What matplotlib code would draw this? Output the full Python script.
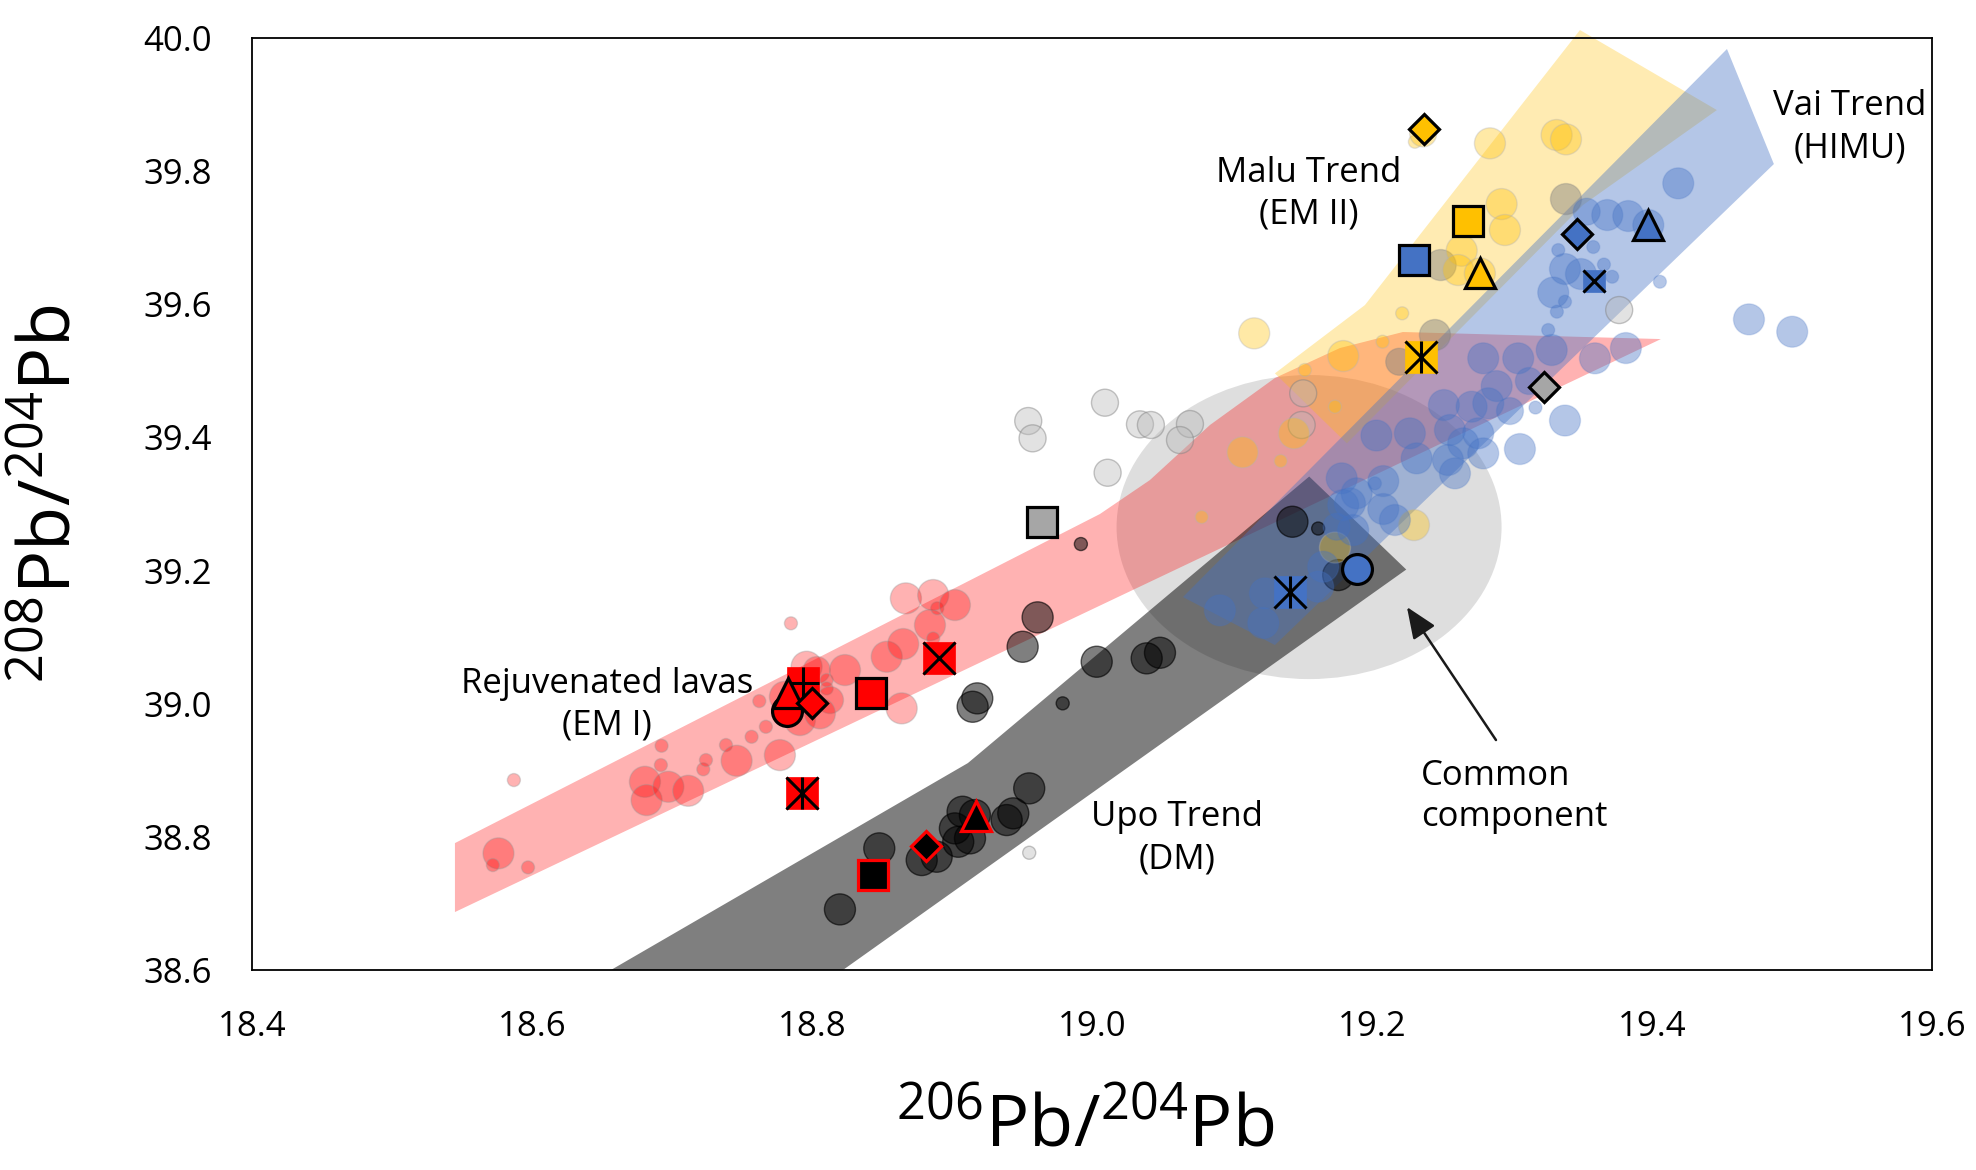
import matplotlib
matplotlib.use("Agg")
import matplotlib.pyplot as plt
from matplotlib.patches import Polygon, Ellipse
import numpy as np

plt.rcParams['font.family'] = 'Open Sans'
plt.rcParams['mathtext.fontset'] = 'custom'
plt.rcParams['mathtext.rm'] = 'Open Sans'

# ---- trend fields, vertices as (206Pb/204Pb, 208Pb/204Pb)
rejuv_field = [(18.545, 38.7907), (19.0057, 39.285), (19.0414, 39.336), (19.0843, 39.4187),
               (19.1307, 39.4893), (19.1771, 39.5343), (19.2221, 39.5584), (19.4064, 39.5478),
               (18.545, 38.6871)]
upo_field = [(18.6564, 38.6), (18.9114, 38.9109), (19.1552, 39.3413), (19.2245, 39.2016),
             (18.8221, 38.6)]
malu_field = [(19.1307, 39.4963), (19.195, 39.5989), (19.3486, 40.012), (19.4464, 39.8918),
              (19.3507, 39.7491), (19.1821, 39.3912)]
vai_field = [(19.065, 39.1603), (19.4536, 39.9835), (19.4871, 39.8107), (19.1307, 39.0882)]
common_centre = (19.1551, 39.2654)
common_w = 0.275
common_h = 0.4567

# ---- literature data (size class: L / M / S)
red_x = [18.5761, 18.5721, 18.5972, 18.5871, 18.6807, 18.6819, 18.6974, 18.7116, 18.6926, 18.6921,
         18.7224, 18.7243, 18.7386, 18.7462, 18.7569, 18.7624, 18.7671, 18.7771, 18.7807, 18.785,
         18.7914, 18.7962, 18.8034, 18.8105, 18.8105, 18.8129, 18.8057, 18.8236, 18.8534, 18.8652,
         18.8843, 18.8866, 18.8895, 18.8671, 18.8866, 18.9021, 18.8641]
red_y = [38.7753, 38.7577, 38.7542, 38.8854, 38.8828, 38.8553, 38.8753, 38.8693, 38.9369, 38.9079,
         38.9015, 38.9154, 38.938, 38.9144, 38.9504, 39.004, 38.9654, 38.9229, 39.0105, 39.1208,
         38.9755, 39.0556, 39.0506, 39.0356, 39.0231, 39.0056, 38.9856, 39.0506, 39.0706, 39.0897,
         39.1182, 39.0982, 39.1433, 39.1583, 39.1633, 39.1483, 38.9931]
red_sz = "LSSSLLLLSSSSSLSSSLLSLLMSSMLLLLLSSLLLL"

lgray_x = [18.9545, 18.9576, 19.0093, 19.0343, 19.0421, 19.07, 19.0629, 19.0112, 19.1509, 19.1498,
           19.3766, 18.9552]
lgray_y = [39.4247, 39.3987, 39.4522, 39.4197, 39.4187, 39.4202, 39.3961, 39.347, 39.4663, 39.4187,
           39.5914, 38.7762]
lgray_sz = "MMMMMMMMMMMS"

mgray_x = [19.3386, 19.2491, 19.245, 19.2195]
mgray_y = [39.7581, 39.659, 39.5539, 39.5137]
mgray_sz = "LLLM"

dark_x = [18.9921, 18.9612, 18.9505, 18.9181, 18.9148, 19.0034, 19.0391, 19.0486, 18.9791, 19.1432,
          19.1616, 19.1759, 18.9552, 18.9438, 18.9391, 18.9076, 18.9164, 18.9021, 18.9045, 18.9129,
          18.8891, 18.8784, 18.8481, 18.82]
dark_y = [39.2399, 39.1298, 39.0856, 39.0081, 38.9955, 39.0631, 39.0682, 39.0766, 39.0006, 39.2734,
          39.2632, 39.1933, 38.8729, 38.8354, 38.8253, 38.8378, 38.8328, 38.8128, 38.7927, 38.7978,
          38.7702, 38.7652, 38.7828, 38.6911]
dark_sz = "SLLLLLLLSLSLLLLLLLLLLLLL"

yel_x = [19.2307, 19.2366, 19.2843, 19.3319, 19.3386, 19.2926, 19.295, 19.2641, 19.2616, 19.2771,
         19.2216, 19.1159, 19.1795, 19.2076, 19.1521, 19.1736, 19.1076, 19.1348, 19.1443, 19.0784,
         19.23, 19.1736]
yel_y = [39.8442, 39.8568, 39.8418, 39.8543, 39.8478, 39.7506, 39.7116, 39.6805, 39.6515, 39.6465,
         39.5865, 39.5564, 39.5223, 39.5438, 39.5013, 39.4462, 39.3777, 39.3646, 39.4062, 39.2805,
         39.2684, 39.2346]
yel_sz = "SMLLLLLLLLSLLSSSLSLSLL"

blue_x = [19.4188, 19.3534, 19.3681, 19.3831, 19.3974, 19.3331, 19.3581, 19.3379, 19.3493, 19.3657,
          19.3716, 19.3295, 19.3379, 19.3321, 19.4057, 19.3259, 19.3284, 19.3593, 19.3814, 19.4693,
          19.5002, 19.2795, 19.3045, 19.2891, 19.3121, 19.2514, 19.2712, 19.2831, 19.2986, 19.3168,
          19.3379, 19.3057, 19.2032, 19.2271, 19.2557, 19.2652, 19.2759, 19.2319, 19.2543, 19.2593,
          19.2795, 19.1784, 19.2081, 19.2021, 19.1795, 19.1843, 19.2081, 19.2164, 19.1866, 19.1748,
          19.1616, 19.1236, 19.0914, 19.1224, 19.1652, 19.1891]
blue_y = [39.7817, 39.7391, 39.7341, 39.7326, 39.7191, 39.6815, 39.6861, 39.653, 39.6455, 39.6598,
          39.6414, 39.6177, 39.6039, 39.5889, 39.6339, 39.5614, 39.5313, 39.5189, 39.5343, 39.5774,
          39.5588, 39.5189, 39.5189, 39.4772, 39.4848, 39.4487, 39.4462, 39.4513, 39.4397, 39.4449,
          39.4254, 39.3826, 39.4029, 39.4062, 39.4112, 39.3912, 39.4062, 39.3686, 39.3661, 39.3461,
          39.3761, 39.3386, 39.3345, 39.3311, 39.2985, 39.301, 39.2925, 39.276, 39.2609, 39.2659,
          39.1758, 39.1658, 39.1403, 39.1212, 39.2058, 39.3161]
blue_sz = "LMLLLSSLLSSLSSSSLLLLLLLLMLLLMSLL" + "LLLLLLLLLLL" + "S" + "LLLLL" + "M" + "LLLLL" + "L"

# ---- this study's samples
hl_group = ["rej", "rej", "rej", "rej", "rej", "rej", "rej",
            "upo", "upo", "upo",
            "gry", "gry",
            "vai", "vai", "vai", "vai", "vai", "vai",
            "mal", "mal", "mal", "mal"]
hl_shape = ["sq+", "o", "^", "D", "s", "sqx", "sq*",
            "s", "D", "^",
            "s", "D",
            "s", "D", "^", "sqx_small", "sq*", "o",
            "D", "s", "^", "sq*"]
hl_x = [18.7934, 18.7824, 18.7826, 18.7998, 18.8425, 18.8909, 18.7926,
        18.8434, 18.8814, 18.9171,
        18.9641, 19.3229,
        19.2302, 19.3466, 19.3969, 19.3588, 19.1414, 19.1895,
        19.2371, 19.2688, 19.2771, 19.2348]
hl_y = [39.0306, 38.9895, 39.0156, 39.0006, 39.0165, 39.0694, 38.8654,
        38.7427, 38.7862, 38.8309,
        39.2725, 39.4757,
        39.6665, 39.7051, 39.7191, 39.6354, 39.1682, 39.2019,
        39.8629, 39.7256, 39.647, 39.5213]

RED = '#FF0000'
BLUE = '#4472C4'
GOLD = '#FFC000'
GREY = '#A6A6A6'

PX = 0.72  # points per pixel at dpi 100
size_px = {'L': 31, 'M': 27, 'S': 13}


def sizes(codes):
    return [(size_px[c] * PX) ** 2 for c in codes]


fig = plt.figure(figsize=(19.76, 11.7), dpi=100)
ax = fig.add_axes([0.1275, 0.1709, 0.8502, 0.7966])

ax.add_patch(Ellipse(common_centre, common_w, common_h, facecolor='#A5A5A5', alpha=0.36,
                     edgecolor='none', zorder=1))
ax.add_patch(Polygon(rejuv_field, closed=True, facecolor=RED, alpha=0.3, edgecolor='none', zorder=2))
ax.add_patch(Polygon(malu_field, closed=True, facecolor=GOLD, alpha=0.3, edgecolor='none', zorder=3,
                     clip_on=False))
ax.add_patch(Polygon(upo_field, closed=True, facecolor='black', alpha=0.5, edgecolor='none', zorder=4))
ax.add_patch(Polygon(vai_field, closed=True, facecolor=BLUE, alpha=0.4, edgecolor='none', zorder=5))

ax.scatter(red_x, red_y, s=sizes(red_sz), facecolor=(1, 0, 0, 0.3),
           edgecolor=(0.6, 0.6, 0.6, 0.35), linewidth=1, zorder=6)
ax.scatter(lgray_x, lgray_y, s=sizes(lgray_sz), facecolor=(0.72, 0.72, 0.72, 0.4),
           edgecolor=(0.5, 0.5, 0.5, 0.45), linewidth=1, zorder=6)
ax.scatter(mgray_x, mgray_y, s=sizes(mgray_sz), facecolor=(0.5, 0.5, 0.5, 0.45),
           edgecolor=(0.5, 0.5, 0.5, 0.3), linewidth=1, zorder=6)
ax.scatter(dark_x, dark_y, s=sizes(dark_sz), facecolor=(0, 0, 0, 0.5),
           edgecolor=(0, 0, 0, 0.6), linewidth=1, zorder=7)
ax.scatter(yel_x, yel_y, s=sizes(yel_sz), facecolor=(1, 0.753, 0, 0.35),
           edgecolor=(0.7, 0.7, 0.7, 0.35), linewidth=1, zorder=7)
ax.scatter(blue_x, blue_y, s=sizes(blue_sz), facecolor=(0.267, 0.447, 0.769, 0.4),
           edgecolor=(0.267, 0.447, 0.769, 0.2), linewidth=1, zorder=8)

face = {'rej': RED, 'upo': 'black', 'gry': GREY, 'vai': BLUE, 'mal': GOLD}
edge = {'rej': 'black', 'upo': RED, 'gry': 'black', 'vai': 'black', 'mal': 'black'}

z = 10
for g, shp, x, y in zip(hl_group, hl_shape, hl_x, hl_y):
    fc = face[g]
    ec = edge[g]
    if shp.startswith('sq') and shp != 's':
        ms = 16.5 if shp.endswith('small') else 23.5
        ax.plot(x, y, 's', ms=ms, mfc=fc, mec=fc, mew=0.5, zorder=z)
        if shp.startswith('sqx'):
            ax.plot(x, y, 'x', ms=ms, mec='black', mew=2.2, zorder=z + 0.1)
        elif shp == 'sq*':
            ax.plot(x, y, 'x', ms=ms, mec='black', mew=2.2, zorder=z + 0.1)
            ax.plot(x, y, '|', ms=ms, mec='black', mew=2.2, zorder=z + 0.1)
        elif shp == 'sq+':
            ax.plot(x, y, '+', ms=ms, mec='black', mew=2.2, zorder=z + 0.1)
    elif shp == 'D':
        ax.plot(x, y, 'D', ms=15.5, mfc=fc, mec=ec, mew=2.3, zorder=z)
    elif shp == '^':
        ax.plot(x, y, '^', ms=22, mfc=fc, mec=ec, mew=2.3, zorder=z)
    elif shp == 'o':
        ax.plot(x, y, 'o', ms=21.5, mfc=fc, mec=ec, mew=2.3, zorder=z)
    else:
        ax.plot(x, y, 's', ms=21.5, mfc=fc, mec=ec, mew=2.3, zorder=z)
    z += 1

# ---- labels
lab = dict(fontsize=25, ha='center', va='center', linespacing=1.3, zorder=30)
ax.text(18.6536, 38.998, "Rejuvenated lavas\n(EM I)", **lab)
ax.text(19.0605, 38.7978, "Upo Trend\n(DM)", **lab)
ax.text(19.155, 39.7657, "Malu Trend\n(EM II)", **lab)
ax.text(19.5414, 39.8659, "Vai Trend\n(HIMU)", **lab)
ax.text(19.235, 38.8606, "Common\ncomponent", fontsize=25, ha='left', va='center',
        linespacing=1.3, zorder=30)
ax.annotate('', xy=(19.225, 39.1453), xytext=(19.2886, 38.9455),
            arrowprops=dict(arrowstyle='-|>,head_length=0.6,head_width=0.25', lw=1.8,
                            color='#1a1a1a', mutation_scale=32, shrinkA=0, shrinkB=0),
            zorder=30)

ax.set_xlim(18.4, 19.6)
ax.set_ylim(38.6, 40.0)
ax.set_xticks(np.arange(18.4, 19.61, 0.2))
ax.set_yticks(np.arange(38.6, 40.01, 0.2))
ax.xaxis.set_major_formatter(matplotlib.ticker.FormatStrFormatter('%.1f'))
ax.yaxis.set_major_formatter(matplotlib.ticker.FormatStrFormatter('%.1f'))
ax.tick_params(length=0, pad=29, labelsize=25)
for sp in ax.spines.values():
    sp.set_linewidth(1.3)
    sp.set_zorder(40)

fig.text(0.549, 0.0359, r'$^{\mathrm{206}}$Pb/$^{\mathrm{204}}$Pb', fontsize=52,
         ha='center', va='center')
fig.text(0.0263, 0.5778, r'$^{\mathrm{208}}$Pb/$^{\mathrm{204}}$Pb', fontsize=52,
         ha='center', va='center', rotation=90)

fig.savefig('out.png', dpi=100)
